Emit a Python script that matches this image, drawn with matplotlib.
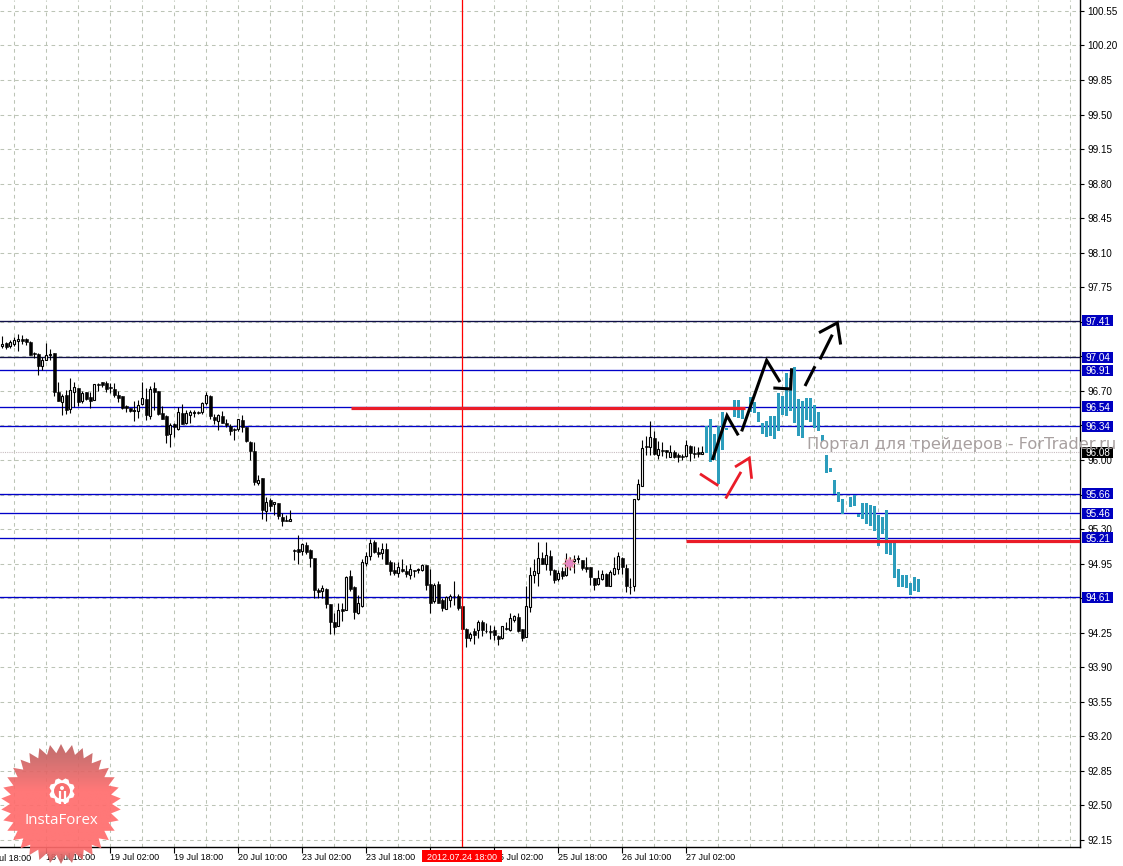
import matplotlib
matplotlib.use('Agg')
import matplotlib.pyplot as plt
from matplotlib.colors import LinearSegmentedColormap
from matplotlib.patches import Polygon, Rectangle, Circle
from matplotlib.transforms import blended_transform_factory
import numpy as np

W, H = 1123, 866
AX_W, AX_H = 1080, 847

opens = [97.16,97.19,97.16,97.18,97.21,97.23,97.23,97.20,97.08,97.07,
    96.95,97.01,97.06,97.08,96.69,96.59,96.66,96.52,96.69,96.73,
    96.60,96.69,96.64,96.61,96.77,96.79,96.78,96.74,96.72,96.66,
    96.65,96.55,96.53,96.50,96.50,96.57,96.62,96.45,96.73,96.70,
    96.48,96.45,96.26,96.36,96.31,96.48,96.38,96.46,96.48,96.49,
    96.49,96.58,96.65,96.44,96.40,96.45,96.37,96.34,96.31,96.31,
    96.41,96.33,96.18,96.09,95.77,95.82,95.48,95.59,95.55,95.56,
    95.42,95.39,95.38,95.09,95.10,95.08,95.14,95.09,95.01,94.68,
    94.67,94.69,94.54,94.36,94.32,94.49,94.48,94.82,94.71,94.45,
    94.52,94.96,95.03,95.17,95.07,95.06,95.10,94.97,94.89,94.86,
    94.90,94.88,94.84,94.89,94.89,94.89,94.94,94.74,94.57,94.74,
    94.58,94.49,94.58,94.62,94.62,94.52,94.29,94.20,94.27,94.28,
    94.36,94.27,94.27,94.28,94.22,94.20,94.30,94.28,94.38,94.41,
    94.29,94.21,94.51,94.83,94.86,95.01,94.95,95.03,94.89,94.79,
    94.88,94.83,94.99,94.98,95.00,94.99,94.92,94.92,94.80,94.74,
    94.79,94.85,94.72,94.85,94.90,95.01,94.91,94.71,94.72,95.60,
    95.74,96.14,96.13,96.22,96.05,96.10,96.10,96.03,96.08,96.05,
    96.04,96.04,96.14,96.07,96.08,96.06]
highs = [97.26,97.20,97.22,97.25,97.28,97.27,97.24,97.21,97.09,97.08,
    97.04,97.19,97.12,97.08,96.79,96.67,96.71,96.83,96.79,96.73,
    96.70,96.69,96.69,96.77,96.78,96.79,96.80,96.78,96.78,96.70,
    96.65,96.56,96.53,96.60,96.61,96.79,96.73,96.75,96.79,96.70,
    96.55,96.46,96.38,96.37,96.54,96.57,96.51,96.51,96.51,96.50,
    96.59,96.69,96.66,96.47,96.47,96.50,96.42,96.36,96.32,96.42,
    96.46,96.33,96.19,96.18,95.85,95.82,95.63,95.62,95.57,95.56,
    95.46,95.44,95.49,95.10,95.24,95.16,95.17,95.10,95.01,94.70,
    94.73,94.70,94.54,94.45,94.55,94.55,94.82,94.89,94.72,94.63,
    95.00,95.07,95.20,95.19,95.12,95.16,95.16,94.99,94.97,94.97,
    95.00,94.94,94.95,94.89,94.91,94.95,94.94,94.90,94.75,94.77,
    94.60,94.62,94.64,94.77,94.64,94.52,94.30,94.26,94.30,94.38,
    94.38,94.35,94.33,94.32,94.23,94.32,94.36,94.45,94.43,94.45,
    94.29,94.72,94.92,95.00,95.17,95.07,95.17,95.09,94.90,94.89,
    94.92,95.06,95.02,95.04,95.04,94.99,95.02,94.92,94.80,94.89,
    94.89,94.86,94.89,95.02,95.07,95.02,94.95,94.80,95.60,95.81,
    96.20,96.24,96.40,96.29,96.19,96.18,96.10,96.15,96.10,96.07,
    96.06,96.20,96.15,96.14,96.13,96.14]
lows = [97.13,97.12,97.14,97.16,97.10,97.18,97.17,97.06,97.03,96.86,
    96.91,97.01,97.01,96.65,96.60,96.46,96.47,96.48,96.54,96.55,
    96.58,96.61,96.53,96.61,96.70,96.74,96.69,96.68,96.64,96.59,
    96.52,96.49,96.49,96.40,96.43,96.56,96.41,96.42,96.51,96.46,
    96.42,96.17,96.13,96.23,96.30,96.36,96.36,96.38,96.44,96.47,
    96.47,96.56,96.42,96.36,96.30,96.37,96.33,96.25,96.20,96.29,
    96.28,96.18,96.00,95.75,95.75,95.40,95.38,95.48,95.44,95.40,
    95.33,95.38,95.38,94.99,94.95,95.04,95.05,94.92,94.60,94.60,
    94.60,94.50,94.24,94.24,94.32,94.37,94.48,94.67,94.39,94.44,
    94.51,94.93,94.99,95.06,95.02,95.00,94.95,94.84,94.84,94.81,
    94.87,94.81,94.79,94.81,94.86,94.88,94.68,94.45,94.55,94.55,
    94.47,94.49,94.51,94.53,94.48,94.29,94.11,94.17,94.14,94.20,
    94.22,94.25,94.19,94.18,94.13,94.19,94.28,94.27,94.36,94.26,
    94.17,94.21,94.46,94.75,94.72,94.95,94.89,94.84,94.75,94.77,
    94.79,94.82,94.89,94.86,94.96,94.89,94.87,94.73,94.68,94.73,
    94.78,94.72,94.72,94.84,94.85,94.85,94.66,94.64,94.67,95.59,
    95.74,96.05,96.05,96.05,96.01,96.04,96.02,96.03,96.02,95.98,
    96.00,96.03,95.99,96.02,96.03,96.06]
closes = [97.18,97.15,97.20,97.22,97.23,97.21,97.20,97.06,97.07,96.95,
    97.01,97.06,97.07,96.69,96.60,96.65,96.51,96.71,96.74,96.59,
    96.68,96.62,96.60,96.77,96.76,96.76,96.72,96.73,96.66,96.63,
    96.53,96.53,96.50,96.51,96.56,96.63,96.46,96.72,96.69,96.47,
    96.42,96.25,96.35,96.33,96.49,96.36,96.48,96.49,96.49,96.48,
    96.58,96.66,96.45,96.41,96.46,96.38,96.35,96.29,96.30,96.42,
    96.33,96.19,96.09,95.78,95.80,95.49,95.57,95.53,95.57,95.43,
    95.38,95.38,95.40,95.08,95.07,95.15,95.07,95.01,94.68,94.66,
    94.70,94.54,94.36,94.31,94.48,94.47,94.81,94.69,94.46,94.55,
    94.97,95.03,95.16,95.07,95.05,95.10,94.95,94.88,94.86,94.92,
    94.88,94.85,94.90,94.88,94.90,94.94,94.73,94.55,94.73,94.55,
    94.50,94.61,94.62,94.62,94.50,94.29,94.20,94.24,94.23,94.36,
    94.28,94.27,94.26,94.23,94.19,94.32,94.29,94.40,94.42,94.27,
    94.20,94.52,94.83,94.88,95.01,94.95,95.04,94.89,94.78,94.86,
    94.82,94.99,94.94,95.00,95.01,94.91,94.90,94.81,94.73,94.80,
    94.85,94.72,94.87,94.91,95.03,94.92,94.72,94.71,95.60,95.76,
    96.12,96.13,96.23,96.06,96.11,96.09,96.08,96.08,96.03,96.03,
    96.03,96.15,96.07,96.06,96.06,96.08]

# forecast bars start right after the last real candle, nan = no bar
fc_high = [96.34,96.42,96.26,96.34,96.49,96.32,np.nan,96.61,96.61,96.54,
    np.nan,96.64,96.59,96.49,96.37,96.40,96.45,96.45,96.68,96.65,
    96.88,96.83,96.94,96.62,96.60,96.63,96.63,96.56,96.49,96.25,
    96.05,95.92,95.80,95.68,95.61,np.nan,95.63,95.65,95.45,95.56,
    95.56,95.54,95.53,95.44,95.42,95.49,95.16,95.16,94.90,94.84,
    94.83,94.75,94.81,94.79]
fc_low = [96.07,95.98,96.00,95.76,96.10,96.30,np.nan,96.44,96.43,96.42,
    np.nan,96.49,96.48,96.39,96.26,96.23,96.24,96.21,96.29,96.46,
    96.45,96.50,96.38,96.24,96.22,96.41,96.39,96.32,96.29,96.19,
    95.87,95.88,95.66,95.57,95.45,np.nan,95.52,95.53,95.42,95.40,
    95.35,95.33,95.28,95.13,95.25,95.05,95.04,94.80,94.71,94.71,
    94.70,94.63,94.67,94.66]

levels = [97.41, 97.04, 96.91, 96.54, 96.34, 95.66, 95.46, 95.21, 94.61]
dark_levels = [97.41, 97.04]
last_price = 96.08

price_ticks = [100.55,100.20,99.85,99.50,99.15,98.80,98.45,98.10,97.75,97.40,
    97.05,96.70,96.35,96.00,95.65,95.30,94.95,94.60,94.25,93.90,93.55,93.20,
    92.85,92.50,92.15]
time_labels = ['18 Jul 10:00','19 Jul 02:00','19 Jul 18:00','20 Jul 10:00',
    '23 Jul 02:00','23 Jul 18:00','24 Jul 10:00','25 Jul 02:00','25 Jul 18:00',
    '26 Jul 10:00','27 Jul 02:00']
cursor_bar = 115
cursor_label = '2012.07.24 18:00'

# hand drawn strokes on the chart, (bar, price)
black_strokes = [
    [(177.5,96.00),(181.17,96.45),(184.0,96.25)],
    [(184.83,96.29),(191.08,97.01),(194.42,96.79)],
    [(192.75,96.73),(197.08,96.72),(197.33,96.93)],
    [(200.67,96.75),(203.17,96.95)],
    [(204.42,97.02),(207.5,97.27)],
    [(204.17,97.29),(208.75,97.39),(209.58,97.17)],
]
red_strokes = [
    [(174.42,95.86),(179.0,95.74)],
    [(180.83,95.61),(184.67,95.88)],
    [(183.17,95.93),(186.75,96.02),(187.33,95.81)],
]
red_lines = [(87.2, 185.7, 96.53), (171, 269.4, 95.18)]

fig = plt.figure(figsize=(W/100, H/100), dpi=100, facecolor='white')
plt.rcParams['font.family'] = ['Liberation Sans', 'DejaVu Sans']
ax = fig.add_axes([0, (H-AX_H)/H, AX_W/W, AX_H/H])
ax.set_xlim(-0.58, 269.42)
ax.set_ylim(92.079, 100.661)

ax.spines['top'].set_visible(False)
ax.spines['left'].set_visible(False)
for s in ['right', 'bottom']:
    ax.spines[s].set_linewidth(1.0)

grid_color = '#bcc4b6'
time_ticks = np.arange(11, 11+16*len(time_labels), 16)
ax.set_xticks(np.arange(3, 269, 8), minor=True)
ax.set_xticks(time_ticks)
# the label left of the cursor sits fully under the red time box
ax.set_xticklabels(['' if 0 < cursor_bar-t <= 8 else s for t, s in zip(time_ticks, time_labels)],
                   ha='left', fontsize=6.5)
ax.tick_params(axis='x', which='major', length=4, width=0.8, pad=0.5)
ax.tick_params(axis='x', which='minor', length=0)
ax.yaxis.tick_right()
ax.set_yticks(price_ticks)
ax.set_yticklabels(['' if min(abs(p-l) for l in levels) < 0.02 else '%.2f' % p for p in price_ticks],
                   fontsize=7.1)
ax.tick_params(axis='y', length=3, width=0.8, pad=2.5)
ax.grid(True, which='both', color=grid_color, linestyle=(0, (3.5, 3.5)), linewidth=0.75)
ax.set_axisbelow(True)

# label that falls off the left edge
ax.text(-5, -0.0085, '17 Jul 18:00', fontsize=6.5, ha='left', va='top',
        transform=blended_transform_factory(ax.transData, ax.transAxes), clip_on=False)

ax.axhline(last_price, color='#c8bcc0', lw=0.8, ls=(0, (1, 1)), zorder=1)

for lev in levels:
    c = '#10104a' if lev in dark_levels else '#0000c8'
    ax.axhline(lev, color=c, lw=0.95, zorder=1.5)

# candles
idx = np.arange(len(opens))
o = np.array(opens)
c = np.array(closes)
ax.vlines(idx, lows, highs, color='black', lw=0.8, zorder=3)
up = c >= o
ax.bar(idx[up], (c-o)[up], bottom=o[up], width=0.5, facecolor='white',
       edgecolor='black', linewidth=0.8, zorder=4)
ax.bar(idx[~up], (o-c)[~up], bottom=c[~up], width=0.62, facecolor='black',
       edgecolor='black', linewidth=0.4, zorder=4)

# forecast
fc_idx = np.arange(len(opens), len(opens)+len(fc_high))
ax.bar(fc_idx, np.array(fc_high)-np.array(fc_low), bottom=fc_low, width=0.82,
       color='#2c9dbc', zorder=3)

# cursor
ax.axvline(cursor_bar, color='#ff0000', lw=0.9, zorder=5)

for x0, x1, p in red_lines:
    ax.plot([x0, x1], [p, p], color='#ea1c28', lw=2.3, solid_capstyle='butt', zorder=6)
for st in black_strokes:
    ax.plot(*zip(*st), color='black', lw=2.2, solid_joinstyle='miter', solid_capstyle='butt', zorder=7)
for st in red_strokes:
    ax.plot(*zip(*st), color='#ea1c28', lw=2.0, solid_joinstyle='miter', solid_capstyle='butt', zorder=7)

# pink marker
ax.scatter([141.7], [94.96], marker=(8, 1, 0), s=95, color='#e484c4',
           edgecolor='#f0a080', linewidth=0.3, zorder=8)

# price boxes on the scale
tr_y = blended_transform_factory(ax.transAxes, ax.transData)
box_x0 = 1082/AX_W
box_w = 31/AX_W
box_h = 11/98.7
def price_box(p, face, z):
    ax.add_patch(Rectangle((box_x0, p-box_h/2), box_w, box_h, transform=tr_y,
                           facecolor=face, edgecolor='none', clip_on=False, zorder=z))
    ax.text(box_x0+box_w/2, p, '%.2f' % p, transform=tr_y, color='white', fontsize=7.1,
            ha='center', va='center_baseline', clip_on=False, zorder=z+0.1)
for lev in levels:
    price_box(lev, '#0000c0', 9)
price_box(last_price, 'black', 9)

# cursor time box
tr_x = blended_transform_factory(ax.transData, ax.transAxes)
ax.add_patch(Rectangle((cursor_bar-10, -15/AX_H), 20, 12/AX_H, transform=tr_x,
                       facecolor='#ff0000', edgecolor='none', clip_on=False, zorder=9))
ax.text(cursor_bar, -9/AX_H, cursor_label, transform=tr_x, color='white', fontsize=6.5,
        ha='center', va='center_baseline', clip_on=False, zorder=9.1)

# watermark
fig.text(807/W, 1-444.5/H, 'Портал для трейдеров - ForTrader.ru', color='#a8a0a0',
         fontsize=11.7, family='DejaVu Sans', ha='left', va='center', zorder=10)

# InstaForex badge
lax = fig.add_axes([0, 0, 122/W, 122/H])
lax.set_xlim(-61, 61)
lax.set_ylim(-62, 60)
lax.axis('off')
lax.patch.set_alpha(0)
n_teeth = 34
ang = np.linspace(0, 2*np.pi, 2*n_teeth, endpoint=False) + np.pi/2
rad = np.where(np.arange(2*n_teeth) % 2 == 0, 60, 51)
star = Polygon(np.c_[rad*np.cos(ang), rad*np.sin(ang)], closed=True,
               transform=lax.transData, facecolor='none', edgecolor='none')
lax.add_patch(star)
cmap = LinearSegmentedColormap.from_list('badge', [(0, '#c06060'), (0.12, '#cc6464'),
    (0.38, '#ff6c6c'), (0.86, '#ff6c6c'), (1, '#b85c5c')])
im = lax.imshow(np.linspace(0, 1, 120).reshape(-1, 1), cmap=cmap, aspect='auto',
                extent=(-61, 61, -62, 60), alpha=0.92, zorder=1)
im.set_clip_path(star)

ang = np.linspace(0, 2*np.pi, 24, endpoint=False)
rad = np.where(np.arange(24) % 3 == 0, 10.5, 13)
lax.add_patch(Polygon(np.c_[rad*np.cos(ang)+1, rad*np.sin(ang)+13], closed=True,
                      facecolor='white', edgecolor='none', zorder=2))
lax.add_patch(Circle((1, 13), 8, facecolor='#f87070', edgecolor='none', zorder=3))
lax.add_patch(Circle((1, 16), 2, facecolor='white', edgecolor='none', zorder=4))
lax.plot([-1.5, -1.5], [13, 0], color='white', lw=1.6, zorder=4, solid_capstyle='butt')
lax.plot([3.5, 3.5], [13, 0], color='white', lw=1.6, zorder=4, solid_capstyle='butt')
lax.text(0, -16, 'InstaForex', color='white', fontsize=10.8, family='Open Sans',
         ha='center', va='center', zorder=5)

fig.savefig('out.png', dpi=100, facecolor='white')
